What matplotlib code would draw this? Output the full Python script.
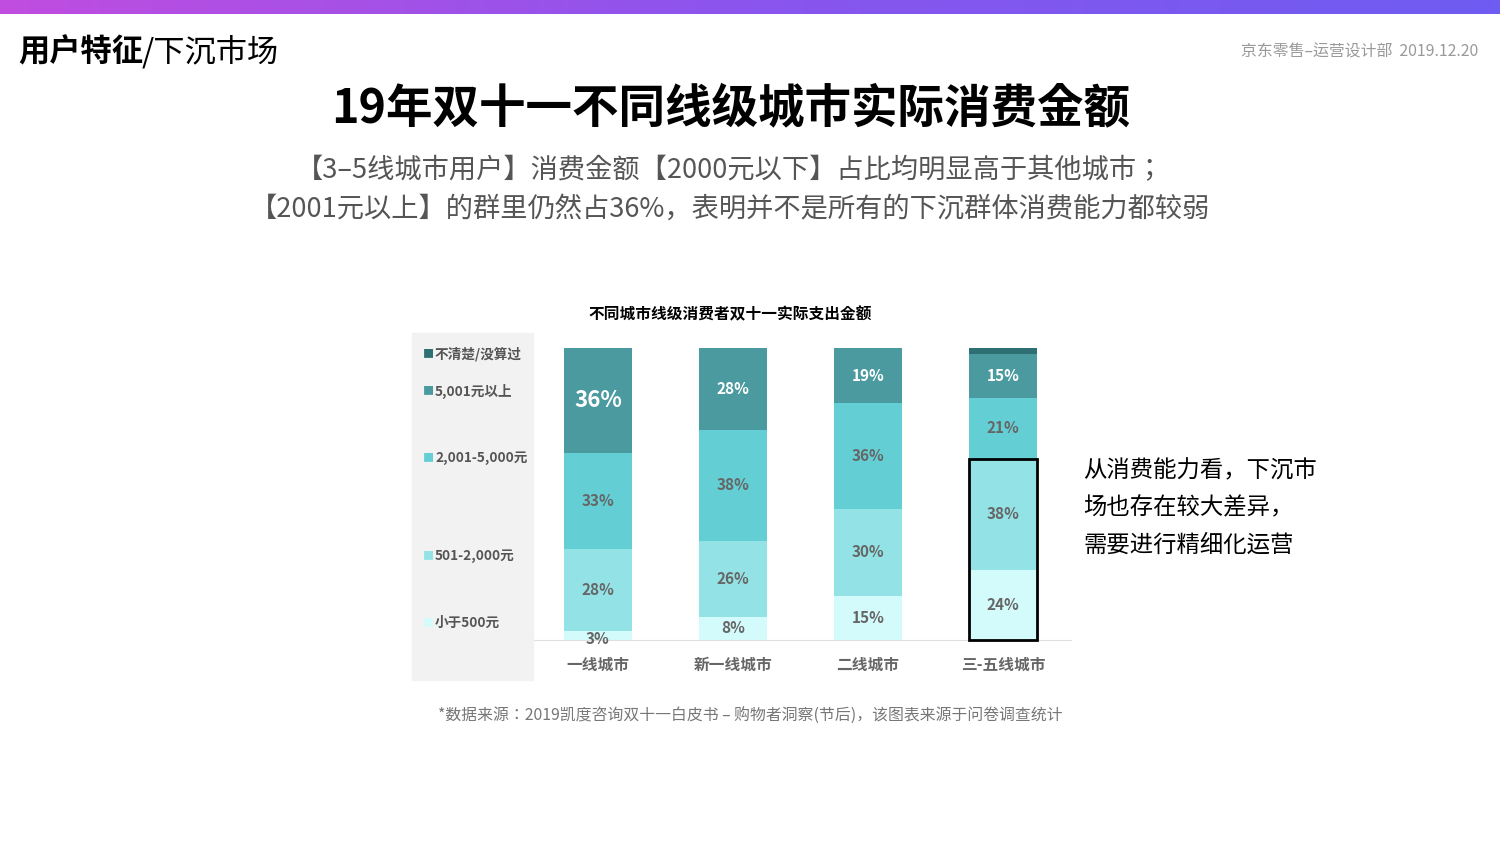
import matplotlib
matplotlib.use("Agg")
import matplotlib.pyplot as plt
import numpy as np
from matplotlib.patches import Rectangle
from matplotlib.colors import LinearSegmentedColormap

plt.rcParams['font.family'] = ['Noto Sans CJK SC', 'Noto Sans CJK JP', 'Noto Sans CJK TC', 'DejaVu Sans']

cities = ["一线城市", "新一线城市", "二线城市", "三-五线城市"]
series_names = ["小于500元", "501-2,000元", "2,001-5,000元", "5,001元以上", "不清楚/没算过"]
lt500 = [3, 8, 15, 24]
r501_2000 = [28, 26, 30, 38]
r2001_5000 = [33, 38, 36, 21]
gt5001 = [36, 28, 19, 15]
unknown = [0, 1, 0, 2]
series = [lt500, r501_2000, r2001_5000, gt5001, unknown]
colors = ["#d4fbfb", "#93e3e6", "#63cfd5", "#4a9aa0", "#2e6f73"]
label_colors = ["#666666", "#666666", "#666666", "#ffffff", None]

W, H = 1500, 843
fig = plt.figure(figsize=(15, 8.43), dpi=100)
fx = lambda x: x / W
fy = lambda y: 1 - y / H

gax = fig.add_axes([0, fy(14), 1, 14 / H])
grad = np.linspace(0, 1, 256)[None, :]
cm = LinearSegmentedColormap.from_list("g", ["#c04de0", "#8a55ee", "#6f5cf2"])
gax.imshow(grad, aspect="auto", cmap=cm)
gax.axis("off")

fig.text(fx(18), fy(52), "用户特征", fontsize=22.5, weight="bold", va="center")
fig.text(fx(142), fy(52), "/下沉市场", fontsize=22.5, va="center")
fig.text(fx(1478), fy(52), "京东零售–运营设计部  2019.12.20", fontsize=11.4, color="#999999", ha="right", va="center")
fig.text(0.487, fy(108), "19年双十一不同线级城市实际消费金额", fontsize=33.5, weight="bold", ha="center", va="center")
fig.text(0.487, fy(171), "【3–5线城市用户】消费金额【2000元以下】占比均明显高于其他城市；", fontsize=19.6, color="#555555", ha="center", va="center")
fig.text(0.487, fy(209), "【2001元以上】的群里仍然占36%，表明并不是所有的下沉群体消费能力都较弱", fontsize=19.6, color="#555555", ha="center", va="center")

fig.patches.append(Rectangle((fx(412), fy(680)), fx(121), (680 - 333) / H, transform=fig.transFigure, color="#f2f2f2", zorder=0))
leg_y = [623, 556, 458, 391, 354]
for name, c, y in zip(series_names, colors, leg_y):
    fig.text(fx(423), fy(y), "■", color=c, fontsize=8, va="center")
    fig.text(fx(435), fy(y), name, color="#555555", fontsize=9.8, weight="bold", va="center")

fig.text(fx(730), fy(314), "不同城市线级消费者双十一实际支出金额", fontsize=11.3, weight="bold", ha="center", va="center")

ax = fig.add_axes([fx(530.5), fy(640), fx(540), (640 - 348) / H])
x = np.arange(len(cities))
bottom = np.zeros(len(cities))
for i, (vals, c, lc) in enumerate(zip(series, colors, label_colors)):
    vals = np.array(vals, dtype=float)
    ax.bar(x, vals, 0.5, bottom=bottom, color=c, zorder=2)
    if lc:
        for j, v in enumerate(vals):
            if v > 0:
                big = (i == 3 and j == 0)
                yv = bottom[j] + v / 2
                if v < 5:
                    yv = bottom[j] + 0.5
                ax.text(x[j], yv, f"{int(v)}%", ha="center", va="center", color=lc,
                        fontsize=16 if big else 11, weight="bold", zorder=3)
    bottom += vals
ax.set_ylim(0, 100)
ax.set_xlim(-0.5, 3.5)
for s in ["top", "right", "left"]:
    ax.spines[s].set_visible(False)
ax.spines["bottom"].set_color("#e0e0e0")
ax.set_yticks([])
ax.set_xticks(x)
ax.set_xticklabels(cities, fontsize=11.3, weight="bold", color="#666666")
ax.tick_params(axis="x", length=0, pad=12)
ax.add_patch(Rectangle((3 - 0.25, 0), 0.5, lt500[3] + r501_2000[3], fill=False, lw=2, ec="black", zorder=4, clip_on=False))

fig.text(fx(1083), fy(459), "从消费能力看，下沉市\n场也存在较大差异，\n需要进行精细化运营", fontsize=16.8, va="top", ha="left", linespacing=1.8)
fig.text(fx(750), fy(716), "*数据来源：2019凯度咨询双十一白皮书 – 购物者洞察(节后)，该图表来源于问卷调查统计", fontsize=11.4, color="#777777", ha="center", va="center")

fig.savefig("out.png", dpi=100, facecolor="white")
